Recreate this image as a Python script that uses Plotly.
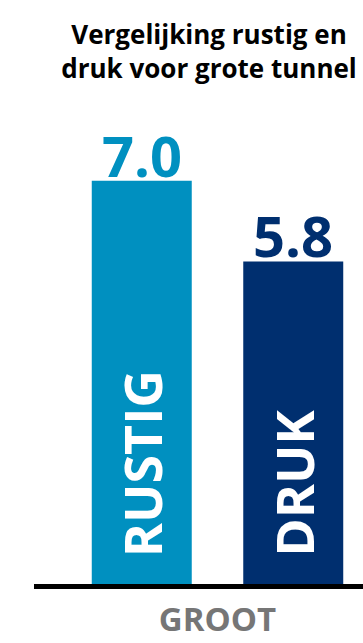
import plotly.graph_objects as go

# ---- data ----
group = ["GROOT"]
series_names = ["RUSTIG", "DRUK"]
series_values = [7.0, 5.8]
value_labels = ["7.0", "5.8"]
colors = ["#0090C0", "#002F6F"]
title_text = "Vergelijking rustig en<br>druk voor grote tunnel"

FONT = "Open Sans"
bargap = 0.2
bargroupgap = 0.34
n = len(series_names)
slot = (1 - bargap) / n

fig = go.Figure()
for i, (name, val, col) in enumerate(zip(series_names, series_values, colors)):
    fig.add_trace(go.Bar(
        x=group, y=[val], name=name,
        marker=dict(color=col, line=dict(width=0)),
        hoverinfo="skip",
    ))

annotations = []
for i, (name, val, lab, col) in enumerate(zip(series_names, series_values, value_labels, colors)):
    xc = -(1 - bargap) / 2 + slot * (i + 0.5)
    annotations.append(dict(
        x=xc, y=val, xref="x", yref="y", text=lab, showarrow=False,
        xanchor="center", yanchor="bottom", yshift=-14,
        font=dict(family=FONT, size=56, color=col, weight="bold"),
    ))
    annotations.append(dict(
        x=xc, y=1, xref="x", yref="y", text=name, showarrow=False,
        textangle=-90, xanchor="center", yanchor="bottom", yshift=25,
        font=dict(family=FONT, size=52, color="white", weight="bold"),
    ))

fig.update_layout(
    width=363, height=643,
    margin=dict(l=34, r=0, t=80, b=59, autoexpand=False),
    paper_bgcolor="white", plot_bgcolor="white",
    barmode="group", bargap=bargap, bargroupgap=bargroupgap,
    showlegend=False,
    title=dict(text=title_text, x=209 / 363, xref="container", xanchor="center",
               y=1 - 44 / 643, yref="container", yanchor="top",
               font=dict(family=FONT, size=26, color="black", weight="bold")),
    xaxis=dict(range=[-0.48449, 0.38416], showline=True, linecolor="black", linewidth=5,
               showgrid=False, zeroline=False, ticks="", ticklabelstandoff=2,
               automargin=False,
               tickfont=dict(family=FONT, size=33, color="#767676", weight="bold")),
    yaxis=dict(range=[1, 8.5], visible=False, showgrid=False, zeroline=False),
    annotations=annotations,
)

fig.write_html("out.html")
